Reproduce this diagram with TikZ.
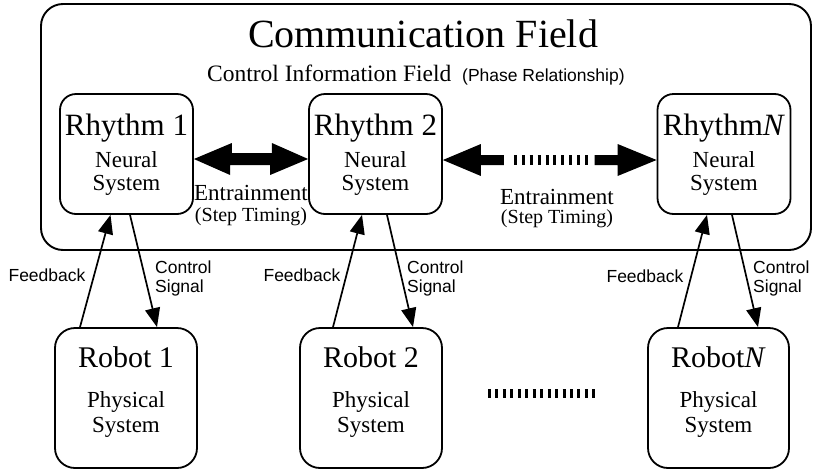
\documentclass[tikz,border=0pt]{standalone}
\usepackage{fontspec}
\setmainfont{Liberation Serif}
\setsansfont{Liberation Sans}
\usetikzlibrary{arrows.meta,calc}
\begin{document}
\begin{tikzpicture}[x=1pt,y=-1pt,
  frame/.style={draw,line width=1.9pt,rounded corners=22pt,inner sep=0pt},
  rbox/.style={draw,line width=1.8pt,rounded corners=16pt,inner sep=0pt,minimum width=133pt,minimum height=120pt},
  pbox/.style={draw,line width=1.8pt,rounded corners=20pt,inner sep=0pt,minimum width=142pt,minimum height=140pt},
  conn/.style={line width=1.7pt,-{Triangle[length=19pt,width=15pt]}},
  big/.style={anchor=base,inner sep=0pt,font=\fontsize{31}{31}\selectfont},
  mid/.style={anchor=base,inner sep=0pt,font=\fontsize{23}{23}\selectfont},
  sml/.style={anchor=base,inner sep=0pt,font=\fontsize{20}{20}\selectfont},
  lbl/.style={anchor=base,inner sep=0pt,font=\sffamily\fontsize{17.5}{17.5}\selectfont},
  lblw/.style={anchor=base west,inner sep=0pt,font=\sffamily\fontsize{17.5}{17.5}\selectfont},
  ticks/.style={line width=#1,dash pattern=on 3pt off 4.45pt}
]
\useasboundingbox (0,0) rectangle (815,472);

% outer frame
\node[frame,minimum width=770pt,minimum height=246pt] (cf) at (426,127) {};
\node[anchor=base,inner sep=0pt,font=\fontsize{40}{40}\selectfont] (title) at (423,47) {Communication Field};
\node[anchor=base west,inner sep=0pt,font=\fontsize{23.5}{23.5}\selectfont] (cif) at (207,81) {Control Information Field};
\node[anchor=base west,inner sep=0pt,font=\sffamily\fontsize{17.5}{17.5}\selectfont] (phr) at (462,81) {(Phase Relationship)};

% rhythm boxes
\node[rbox] (r1) at (126.5,154) {};
\node[rbox] (r2) at (375.5,154) {};
\node[rbox] (r3) at (724,154) {};
\node[big] (r1t) at (126.5,135) {Rhythm 1};
\node[big] (r2t) at (375.5,135) {Rhythm 2};
\node[big] (r3t) at (724,135) {Rhythm\textit{N}};
\foreach \n/\x in {1/126.5,2/375.5,3/724}{
  \node[mid] (r\n a) at (\x,167) {Neural};
  \node[mid] (r\n b) at (\x,190) {System};
}

% robot boxes
\node[pbox] (b1) at (126,398) {};
\node[pbox] (b2) at (371,398) {};
\node[pbox,minimum width=141pt] (b3) at (718.5,398) {};
\node[big,font=\fontsize{30}{30}\selectfont] (b1t) at (126,367) {Robot 1};
\node[big,font=\fontsize{30}{30}\selectfont] (b2t) at (371,367) {Robot 2};
\node[big,font=\fontsize{30}{30}\selectfont] (b3t) at (718.5,367) {Robot\textit{N}};
\foreach \n/\x in {1/126,2/371,3/718.5}{
  \node[mid] (b\n a) at (\x,407) {Physical};
  \node[mid] (b\n b) at (\x,432) {System};
}

% entrainment arrow 1
\coordinate (e1a) at ([yshift=-5pt]r1.east);
\coordinate (e1b) at ([yshift=-5pt]r2.west);
\fill (e1a) -- ++(38,-16) -- ++(0,10) -- ++(40,0) -- ++(0,-10) -- (e1b)
      -- ++(-38,16) -- ++(0,-10) -- ++(-40,0) -- ++(0,10) -- cycle;
\node[mid] (en1) at (251,200) {Entrainment};
\node[sml] (st1) at (251,221) {(Step Timing)};

% entrainment arrow 2
\coordinate (e2a) at ([yshift=-6pt]r2.east);
\coordinate (e2b) at ([yshift=-6pt]r3.west);
\fill (e2a) -- ++(38,-16) -- ++(0,11) -- ++(23,0) -- ++(0,10) -- ++(-23,0) -- ++(0,11) -- cycle;
\fill (e2b) -- ++(-39,-16) -- ++(0,11) -- ++(-23,0) -- ++(0,10) -- ++(23,0) -- ++(0,11) -- cycle;
\draw[line width=10pt,dash pattern=on 3pt off 4.9pt] ($(e2a)+(71,0)$) -- ($(e2a)+(145.1,0)$);
\node[mid] (en2) at (557,204) {Entrainment};
\node[sml] (st2) at (557,223) {(Step Timing)};

% robot dots
\coordinate (d1) at (488,393);
\coordinate (d2) at (595.3,393);
\draw[ticks=9pt] (d1) -- (d2);

% feedback / control connectors
\draw[conn] ([xshift=-46pt]b1.north) -- ([xshift=-16pt]r1.south);
\draw[conn] ([xshift=3.5pt]r1.south) -- ([xshift=31pt]b1.north);
\draw[conn] ([xshift=-38pt]b2.north) -- ([xshift=-13.5pt]r2.south);
\draw[conn] ([xshift=11.5pt]r2.south) -- ([xshift=42pt]b2.north);
\draw[conn] ([xshift=-40.5pt]b3.north) -- ([xshift=-17pt]r3.south);
\draw[conn] ([xshift=8pt]r3.south) -- ([xshift=39.5pt]b3.north);

% labels
\node[lbl] (fb1) at (47,281) {Feedback};
\node[lbl] (fb2) at (302,281) {Feedback};
\node[lbl] (fb3) at (645,282) {Feedback};
\node[lblw] (cs1a) at (155,273) {Control};
\node[lblw] (cs1b) at (155,292) {Signal};
\node[lblw] (cs2a) at (407,273) {Control};
\node[lblw] (cs2b) at (407,292) {Signal};
\node[lblw] (cs3a) at (753,273) {Control};
\node[lblw] (cs3b) at (753,292) {Signal};
\end{tikzpicture}
\end{document}
